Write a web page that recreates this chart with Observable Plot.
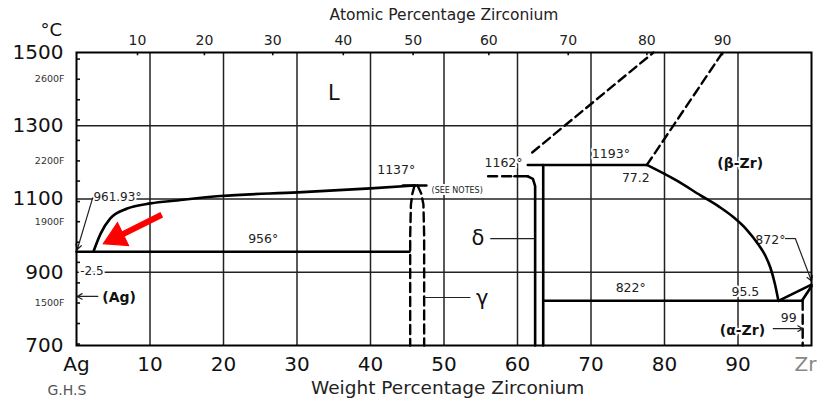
<!DOCTYPE html>
<html><head><meta charset="utf-8">
<script src="https://cdn.jsdelivr.net/npm/d3@7"></script>
<script src="https://cdn.jsdelivr.net/npm/@observablehq/plot@0.6"></script>
<style>
body{margin:0;background:#fff;}
svg{display:block;}
</style>
</head><body><div id="chart"></div>
<script>
// ---- axes / ticks ----
const wtTicks = [0, 10, 20, 30, 40, 50, 60, 70, 80, 90];
const wtTickLabels = ["Ag", "10", "20", "30", "40", "50", "60", "70", "80", "90"];
const wtEndTick = [100];
const wtEndLabel = ["Zr"];
const gridWt = [10, 20, 30, 40, 50, 60, 70, 80, 90];
const gridC = [1300, 1100, 900];
const atomicTickLabels = ["10", "20", "30", "40", "50", "60", "70", "80", "90"];
const atomicTickWt = [8.3, 17.4, 26.7, 36.3, 45.8, 56.1, 66.9, 77.6, 87.9];
const celsiusTicks = [1500, 1300, 1100, 900, 700];
const fahrenheitLabels = ["2600F", "2200F", "1900F", "1500F"];
const fahrenheitLabelC = [1427, 1204, 1038, 816];
const fahrenheitMinorC = [704, 760, 816, 871, 927, 982, 1038, 1093, 1149, 1204, 1260, 1316, 1371, 1427, 1482];

// ---- phase boundaries [wt% Zr, °C] ----
const liquidusAg = [[2.3,956],[3.3,1006],[4.6,1047],[6.9,1074],[10.1,1088],[13.7,1096],[19.6,1108],[30.1,1118],[40.0,1129],[46.0,1137]];
const eutectic956 = [[0,956],[45.3,956]];
const gammaTop = [[44.4,1137],[47.6,1137]];
const peritectic1162 = [[59.6,1162],[61.4,1162]];
const deltaLeft = [[61.4,1162],[62.1,1155],[62.4,1135],[62.4,700]];
const deltaRight = [[63.5,1193],[63.5,700]];
const peritectic1193 = [[61.4,1193],[77.6,1193]];
const betaSolvus = [[77.6,1193],[81.5,1152],[84.9,1110],[87.5,1078],[89.4,1050],[91.2,1016],[92.7,978],[93.7,946],[94.4,913],[95.0,870],[95.5,822]];
const eutectoid822 = [[63.5,822],[98.7,822]];
const alphaBetaLeft = [[95.5,822],[100,866]];
const alphaBetaRight = [[98.7,822],[100,862]];
// dashed (uncertain) boundaries
const gammaLeft = [[46.0,1137],[45.7,1115],[45.5,1085],[45.4,1000],[45.4,700]];
const gammaRight = [[46.4,1137],[46.9,1115],[47.2,1085],[47.3,1000],[47.3,700]];
const peritectic1162Dash = [[56.0,1162],[59.6,1162]];
const liquidusDashA = [[62.0,1227],[78.5,1500]];
const liquidusDashB = [[77.6,1193],[87.9,1500]];
const alphaSolvusDash = [[98.8,822],[98.8,700]];

// ---- annotations ----
const bigLabels = [{t:"L", x:35.0, y:1389}, {t:"δ", x:54.6, y:993}, {t:"γ", x:55.2, y:828}];
const phaseLabels = [{t:"(β-Zr)", x:90.3, y:1197}, {t:"(α-Zr)", x:90.6, y:741}, {t:"(Ag)", x:5.8, y:830}];
const tempLabelsStart = [
  {t:"961.93°", x:2.3, y:1106},
  {t:"-2.5", x:0.5, y:902}
];
const tempLabels = [
  {t:"956°", x:25.4, y:992},
  {t:"1137°", x:43.5, y:1178},
  {t:"1162°", x:58.1, y:1198},
  {t:"1193°", x:72.7, y:1224},
  {t:"77.2", x:76.1, y:1156},
  {t:"822°", x:75.4, y:858},
  {t:"95.5", x:91.0, y:847},
  {t:"872°", x:94.4, y:987},
  {t:"99", x:96.9, y:776}
];
const noteLabels = [{t:"(SEE NOTES)", x:48.3, y:1123}];
const leaderLines = [
  {x1:56.3, y1:992, x2:62.4, y2:992},
  {x1:47.3, y1:831, x2:53.6, y2:831},
  {x1:96.4, y1:992, x2:97.8, y2:992}
];
const leaderArrows = [
  {x1:2.2, y1:1103, x2:0.1, y2:962},
  {x1:97.8, y1:992, x2:100, y2:876},
  {x1:94.8, y1:746, x2:98.8, y2:746},
  {x1:2.9, y1:834, x2:0.1, y2:834}
];
const redArrow = [{x1:11.6, y1:1057, x2:3.7, y2:978}];

const solid = {liquidusAg, eutectic956, gammaTop, peritectic1162, deltaLeft, deltaRight, peritectic1193,
  betaSolvus, eutectoid822, alphaBetaLeft, alphaBetaRight};
const dashed = {gammaLeft, gammaRight, peritectic1162Dash, liquidusDashA, liquidusDashB, alphaSolvusDash};
const toRows = obj => Object.entries(obj).flatMap(([k, pts]) => pts.map(([x, y]) => ({k, x, y})));
const smooth = new Set(["liquidusAg", "betaSolvus"]);
const solidRows = toRows(solid);
const dashedRows = toRows(dashed);

// red arrow head: filled triangle near the tip, shaft up to the head
const headBack = 0.22;
const redHead = redArrow.map(d => ({x: d.x2 + headBack * (d.x1 - d.x2), y: d.y2 + headBack * (d.y1 - d.y2)}));
const redShaft = redArrow.map((d, i) => ({x1: d.x1, y1: d.y1, x2: redHead[i].x, y2: redHead[i].y}));

const font = "'DejaVu Sans', Arial, sans-serif";
const halo = {stroke: "white", strokeWidth: 4};

const chart = Plot.plot({
  width: 817, height: 403,
  marginLeft: 76, marginRight: 6, marginTop: 52, marginBottom: 58,
  x: {domain: [0, 100], axis: null},
  y: {domain: [700, 1500], axis: null},
  style: {fontFamily: font, background: "white", color: "#111"},
  marks: [
    Plot.ruleX(gridWt, {stroke: "#222", strokeWidth: 1.5}),
    Plot.ruleY(gridC, {stroke: "#222", strokeWidth: 1.5}),
    Plot.ruleY(fahrenheitMinorC, {x1: 0, x2: 0.55, stroke: "#111", strokeWidth: 1.6}),
    Plot.ruleX(atomicTickWt, {y1: 1500, y2: 1491, stroke: "#111", strokeWidth: 1.6}),
    // labels with halo (drawn before lines so lines stay visible)
    Plot.text(tempLabels, {x: "x", y: "y", text: "t", fontSize: 12.5, fill: "#222", ...halo}),
    Plot.text(tempLabelsStart, {x: "x", y: "y", text: "t", textAnchor: "start", fontSize: 12, fill: "#222", ...halo}),
    Plot.text(noteLabels, {x: "x", y: "y", text: "t", textAnchor: "start", fontSize: 8, letterSpacing: 1, fill: "#222", ...halo}),
    Plot.text(bigLabels, {x: "x", y: "y", text: "t", fontSize: 21, fill: "#111", ...halo}),
    Plot.text(phaseLabels, {x: "x", y: "y", text: "t", fontSize: 14, fontWeight: "bold", fill: "#111", ...halo}),
    // phase boundaries
    Plot.line(solidRows.filter(d => !smooth.has(d.k)), {x: "x", y: "y", z: "k", stroke: "#000", strokeWidth: 2.6}),
    Plot.line(solidRows.filter(d => smooth.has(d.k)), {x: "x", y: "y", z: "k", stroke: "#000", strokeWidth: 2.6, curve: "monotone-x"}),
    Plot.line(dashedRows, {x: "x", y: "y", z: "k", stroke: "#000", strokeWidth: 2.4, strokeDasharray: "9,5"}),
    Plot.link(leaderLines, {x1: "x1", y1: "y1", x2: "x2", y2: "y2", stroke: "#222", strokeWidth: 1.2}),
    Plot.arrow(leaderArrows, {x1: "x1", y1: "y1", x2: "x2", y2: "y2", stroke: "#222", strokeWidth: 1.2, headLength: 7}),
    Plot.link(redShaft, {x1: "x1", y1: "y1", x2: "x2", y2: "y2", stroke: "#f00", strokeWidth: 6}),
    Plot.dot(redHead, {x: "x", y: "y", symbol: "triangle", r: 9.5, rotate: 244, fill: "#f00", stroke: "#f00", strokeWidth: 1}),
    Plot.frame({stroke: "#000", strokeWidth: 2}),
    // axes text
    Plot.text(wtTicks, {x: d => d, frameAnchor: "bottom", lineAnchor: "middle", dy: 19, text: (d, i) => wtTickLabels[i], fontSize: 20,
      textAnchor: "middle", fill: "#111"}),
    Plot.text(wtEndTick, {x: d => d, frameAnchor: "bottom", lineAnchor: "middle", dy: 19, dx: 5, text: (d, i) => wtEndLabel[i], fontSize: 20,
      textAnchor: "end", fill: "#888"}),
    Plot.text(atomicTickWt, {x: d => d, frameAnchor: "top", lineAnchor: "middle", dy: -12, text: (d, i) => atomicTickLabels[i], fontSize: 14, fill: "#222"}),
    Plot.text(celsiusTicks, {y: d => d, frameAnchor: "left", lineAnchor: "middle", dx: -13, textAnchor: "end", text: d => String(d), fontSize: 20, fill: "#111"}),
    Plot.text(fahrenheitLabelC, {y: d => d, frameAnchor: "left", lineAnchor: "middle", dx: -12, textAnchor: "end", text: (d, i) => fahrenheitLabels[i], fontSize: 9.5, letterSpacing: 1.5, fill: "#333"}),
    Plot.text(["°C"], {frameAnchor: "top-left", lineAnchor: "middle", dx: -36, dy: -22, text: d => d, fontSize: 18, fill: "#111"}),
    Plot.text(["Atomic Percentage Zirconium"], {x: 50, frameAnchor: "top", lineAnchor: "middle", dy: -37, text: d => d, fontSize: 15.5, fill: "#222"}),
    Plot.text(["Weight Percentage Zirconium"], {x: 50.5, frameAnchor: "bottom", lineAnchor: "middle", dy: 43, text: d => d, fontSize: 18.5, fill: "#222"}),
    Plot.text(["G.H.S"], {frameAnchor: "bottom-left", lineAnchor: "middle", dx: -29, dy: 45, text: d => d, fontSize: 14, letterSpacing: 1.5, fill: "#555"})
  ]
});
document.getElementById("chart").append(chart);
</script>
</body></html>
